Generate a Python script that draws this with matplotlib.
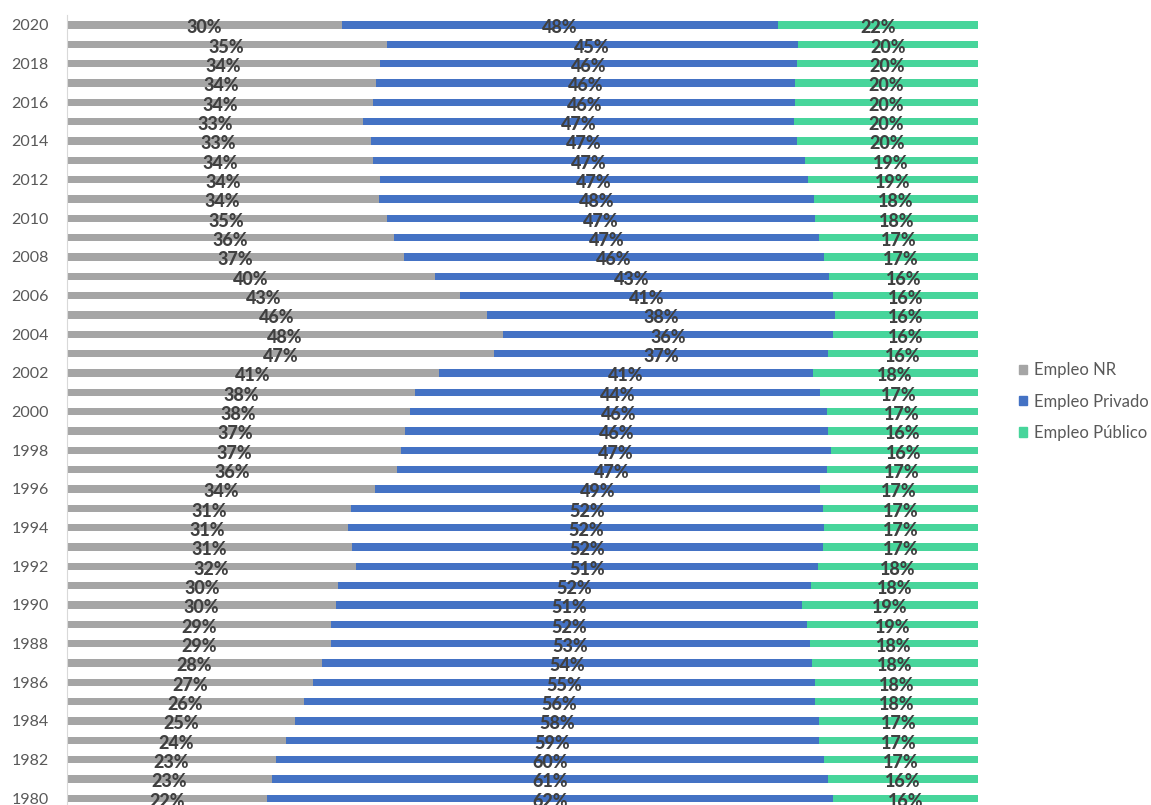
import matplotlib.pyplot as plt
import numpy as np
from matplotlib.patches import Patch

# shares per year (percent)
years = list(range(1980, 2021))
empleo_nr = [21.99, 22.55, 23.01, 24.04, 25.06, 26.05, 27.07, 28.06, 29.05, 29.05,
             29.53, 29.78, 31.79, 31.35, 30.91, 31.21, 33.84, 36.26, 36.70, 37.10,
             37.68, 38.27, 40.87, 46.90, 47.93, 46.17, 43.17, 40.43, 36.99, 35.96,
             35.13, 34.25, 34.39, 33.66, 33.37, 32.52, 33.66, 33.95, 34.39, 35.13,
             30.19]
empleo_privado = [62.16, 61.02, 60.12, 58.54, 57.52, 56.09, 55.07, 53.78, 52.51, 52.21,
                  51.18, 51.92, 50.65, 51.67, 52.22, 51.81, 48.88, 47.16, 47.16, 46.45,
                  45.74, 44.45, 41.02, 36.67, 36.22, 38.13, 40.98, 43.28, 46.14, 46.62,
                  47.01, 47.75, 47.01, 47.35, 46.76, 47.32, 46.32, 46.03, 45.74, 45.11,
                  47.92]
empleo_publico = [15.85, 16.43, 16.87, 17.42, 17.42, 17.86, 17.86, 18.16, 18.44, 18.74,
                  19.29, 18.30, 17.56, 16.98, 16.87, 16.98, 17.28, 16.58, 16.14, 16.45,
                  16.58, 17.28, 18.11, 16.43, 15.85, 15.70, 15.85, 16.29, 16.87, 17.42,
                  17.86, 18.00, 18.60, 18.99, 19.87, 20.16, 20.02, 20.02, 19.87, 19.76,
                  21.89]

series = [
    ("Empleo NR", empleo_nr, "#A5A5A5"),
    ("Empleo Privado", empleo_privado, "#4472C4"),
    ("Empleo Público", empleo_publico, "#47D59B"),
]

fig = plt.figure(figsize=(11.51, 8.05), dpi=100)
ax = fig.add_axes([0.05795, -0.0037, 0.7915, 0.9847])

y = np.array(years)
left = np.zeros(len(years))
for name, vals, color in series:
    vals = np.array(vals)
    ax.barh(y, vals, left=left, height=0.38, color=color, label=name, zorder=2)
    for yi, l, v in zip(y, left, vals):
        ax.text(l + v / 2, yi - 0.14, f"{v:.0f}%", ha="center", va="center",
                fontsize=13, fontweight=900, family="Lato", color="#404040", zorder=5)
    left = left + vals

ax.set_xlim(0, 100)
ax.set_ylim(1979.5, 2020.5)
ax.set_xticks([])
ax.set_yticks(years[::2])
ax.set_yticklabels([str(yr) for yr in years[::2]], family="Lato", fontsize=11.5, color="#595959")
ax.tick_params(axis="y", length=0, pad=13)
for side in ["top", "right", "bottom"]:
    ax.spines[side].set_visible(False)
ax.spines["left"].set_color("#D9D9D9")

handles = [Patch(color=c, label=n) for n, _, c in series]
fig.legend(handles=handles, loc="center left", bbox_to_anchor=(1019 / 1151, 0.501),
           frameon=False, borderpad=0, borderaxespad=0, handlelength=0.48, handleheight=0.48,
           handletextpad=0.42, labelspacing=0.92, prop={"family": "Lato", "size": 12},
           labelcolor="#595959")

fig.savefig("out.png", dpi=100)
